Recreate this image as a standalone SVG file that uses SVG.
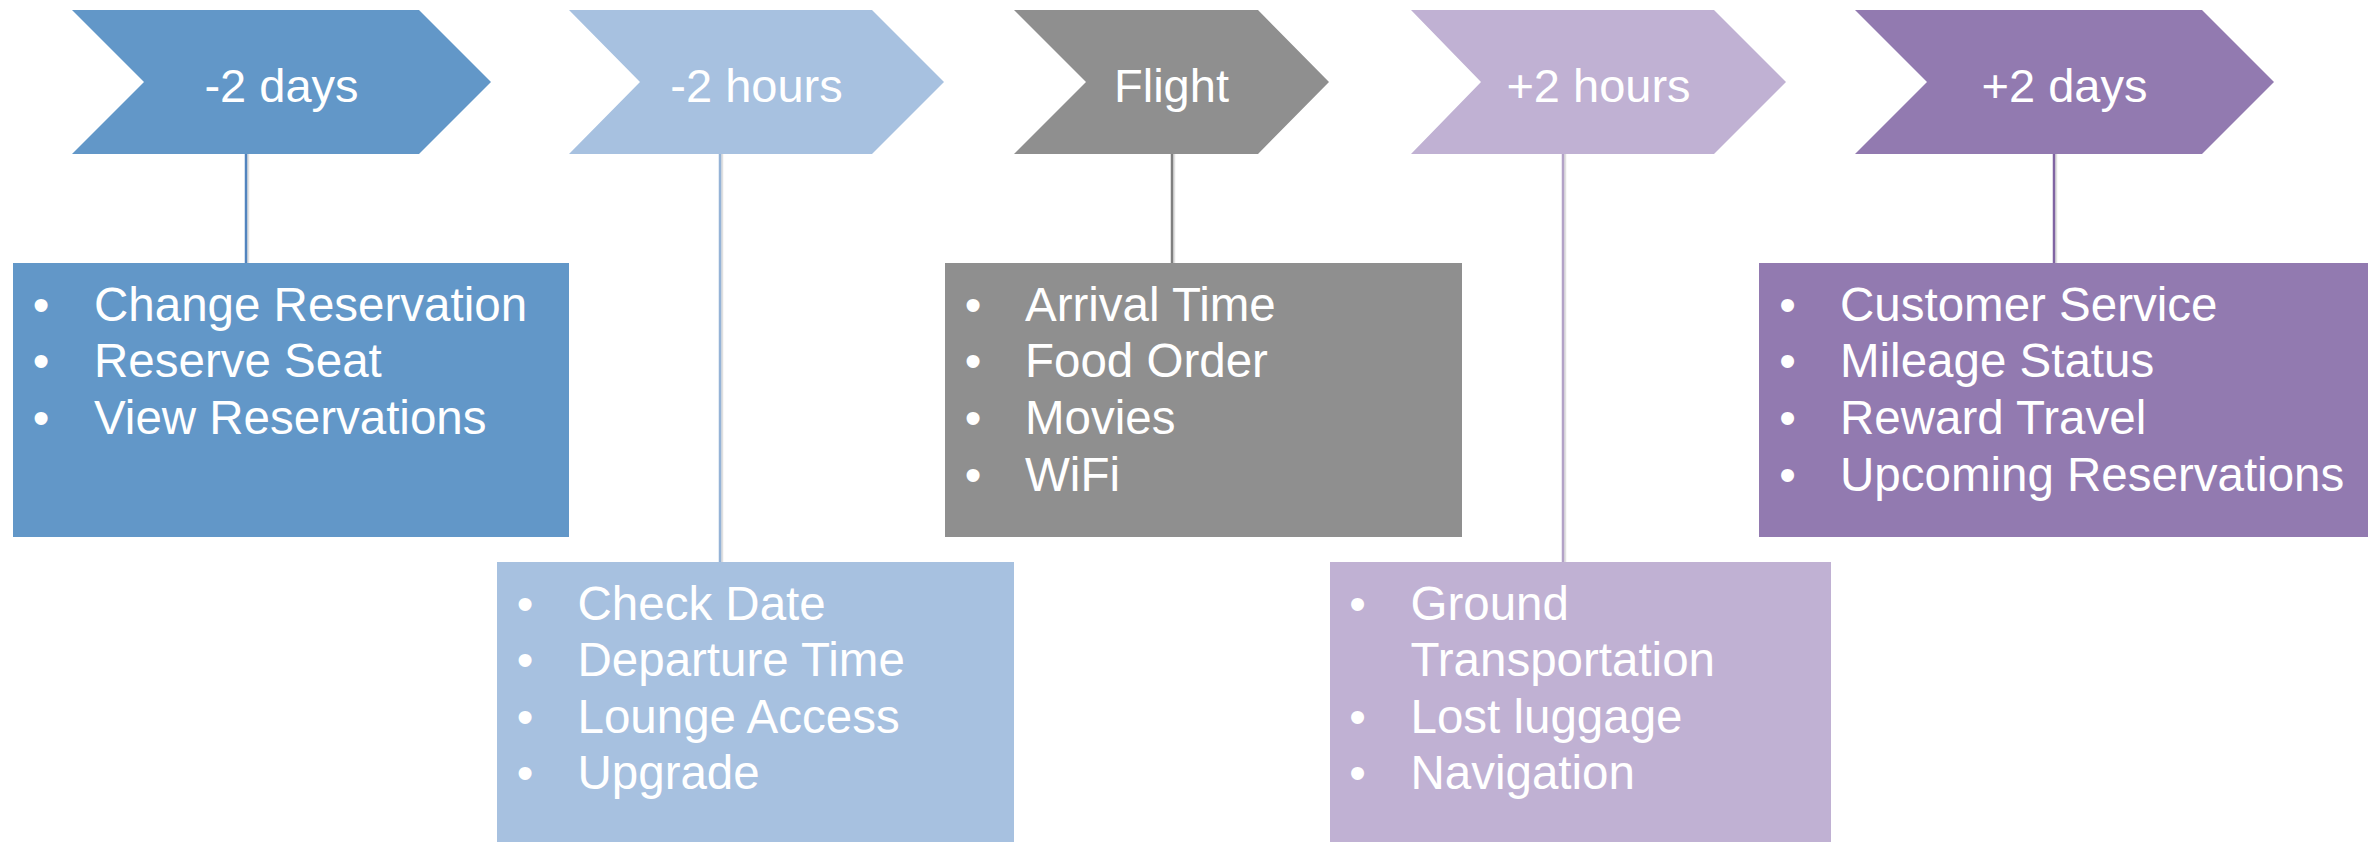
<svg xmlns="http://www.w3.org/2000/svg" width="2379" height="842" viewBox="0 0 2379 842">
<style>
.hdr{font-family:"Liberation Sans",Arial,sans-serif;font-size:47px;fill:#fff;text-anchor:middle}
.itm{font-family:"Liberation Sans",Arial,sans-serif;font-size:47.5px;fill:#fff}
.bul{font-family:"Liberation Sans",Arial,sans-serif;font-size:47.5px;fill:#fff;text-anchor:middle}
.conn line{stroke-width:2.5}
.shadow{stroke:#000;stroke-opacity:0.12;stroke-width:4}
</style>
<rect width="2379" height="842" fill="#fff"/>
<g id="connectors" class="conn">
  <line class="shadow" x1="248" y1="154" x2="248" y2="263"/>
  <line x1="246" y1="154" x2="246" y2="263" stroke="#5284BE"/>
  <line class="shadow" x1="722" y1="154" x2="722" y2="562"/>
  <line x1="720" y1="154" x2="720" y2="562" stroke="#95B3D7"/>
  <line class="shadow" x1="1174" y1="154" x2="1174" y2="263"/>
  <line x1="1172" y1="154" x2="1172" y2="263" stroke="#7F7F7F"/>
  <line class="shadow" x1="1565" y1="154" x2="1565" y2="562"/>
  <line x1="1563" y1="154" x2="1563" y2="562" stroke="#B3A2C7"/>
  <line class="shadow" x1="2056" y1="154" x2="2056" y2="263"/>
  <line x1="2054" y1="154" x2="2054" y2="263" stroke="#8064A2"/>
</g>
<g id="h-minus2days">
  <polygon points="72,10 419,10 491,82 419,154 72,154 144,82" fill="#6297C8"/>
  <text class="hdr" x="281.5" y="101.5">-2 days</text>
</g>
<g id="h-minus2hours">
  <polygon points="569,10 872,10 944,82 872,154 569,154 640,82" fill="#A7C1E0"/>
  <text class="hdr" x="756.5" y="101.5">-2 hours</text>
</g>
<g id="h-flight">
  <polygon points="1014,10 1258,10 1329,82 1258,154 1014,154 1086,82" fill="#8F8F8F"/>
  <text class="hdr" x="1171.5" y="101.5">Flight</text>
</g>
<g id="h-plus2hours">
  <polygon points="1411,10 1714,10 1786,82 1714,154 1411,154 1481,82" fill="#C0B1D3"/>
  <text class="hdr" x="1598.5" y="101.5">+2 hours</text>
</g>
<g id="h-plus2days">
  <polygon points="1855,10 2202,10 2274,82 2202,154 1855,154 1927,82" fill="#927AB0"/>
  <text class="hdr" x="2064.5" y="101.5">+2 days</text>
</g>
<g id="b-minus2days">
  <rect x="13" y="263" width="556" height="274" fill="#6297C8"/>
  <text class="bul" x="41" y="320.7">•</text><text class="itm" x="94" y="320.7">Change Reservation</text>
  <text class="bul" x="41" y="377">•</text><text class="itm" x="94" y="377">Reserve Seat</text>
  <text class="bul" x="41" y="434.3">•</text><text class="itm" x="94" y="434.3">View Reservations</text>
</g>
<g id="b-minus2hours">
  <rect x="497" y="562" width="517" height="280" fill="#A7C1E0"/>
  <text class="bul" x="525" y="620">•</text><text class="itm" x="577.5" y="620">Check Date</text>
  <text class="bul" x="525" y="676">•</text><text class="itm" x="577.5" y="676">Departure Time</text>
  <text class="bul" x="525" y="733">•</text><text class="itm" x="577.5" y="733">Lounge Access</text>
  <text class="bul" x="525" y="789">•</text><text class="itm" x="577.5" y="789">Upgrade</text>
</g>
<g id="b-flight">
  <rect x="945" y="263" width="517" height="274" fill="#8F8F8F"/>
  <text class="bul" x="973" y="320.7">•</text><text class="itm" x="1025" y="320.7">Arrival Time</text>
  <text class="bul" x="973" y="377">•</text><text class="itm" x="1025" y="377">Food Order</text>
  <text class="bul" x="973" y="434.3">•</text><text class="itm" x="1025" y="434.3">Movies</text>
  <text class="bul" x="973" y="490.7">•</text><text class="itm" x="1025" y="490.7">WiFi</text>
</g>
<g id="b-plus2hours">
  <rect x="1330" y="562" width="501" height="280" fill="#C0B1D3"/>
  <text class="bul" x="1357.5" y="620">•</text><text class="itm" x="1410.5" y="620">Ground</text>
  <text class="itm" x="1410.5" y="676">Transportation</text>
  <text class="bul" x="1357.5" y="733">•</text><text class="itm" x="1410.5" y="733">Lost luggage</text>
  <text class="bul" x="1357.5" y="789">•</text><text class="itm" x="1410.5" y="789">Navigation</text>
</g>
<g id="b-plus2days">
  <rect x="1759" y="263" width="609" height="274" fill="#927AB0"/>
  <text class="bul" x="1787.5" y="320.7">•</text><text class="itm" x="1840" y="320.7">Customer Service</text>
  <text class="bul" x="1787.5" y="377">•</text><text class="itm" x="1840" y="377">Mileage Status</text>
  <text class="bul" x="1787.5" y="434.3">•</text><text class="itm" x="1840" y="434.3">Reward Travel</text>
  <text class="bul" x="1787.5" y="490.7">•</text><text class="itm" x="1840" y="490.7">Upcoming Reservations</text>
</g>
</svg>
